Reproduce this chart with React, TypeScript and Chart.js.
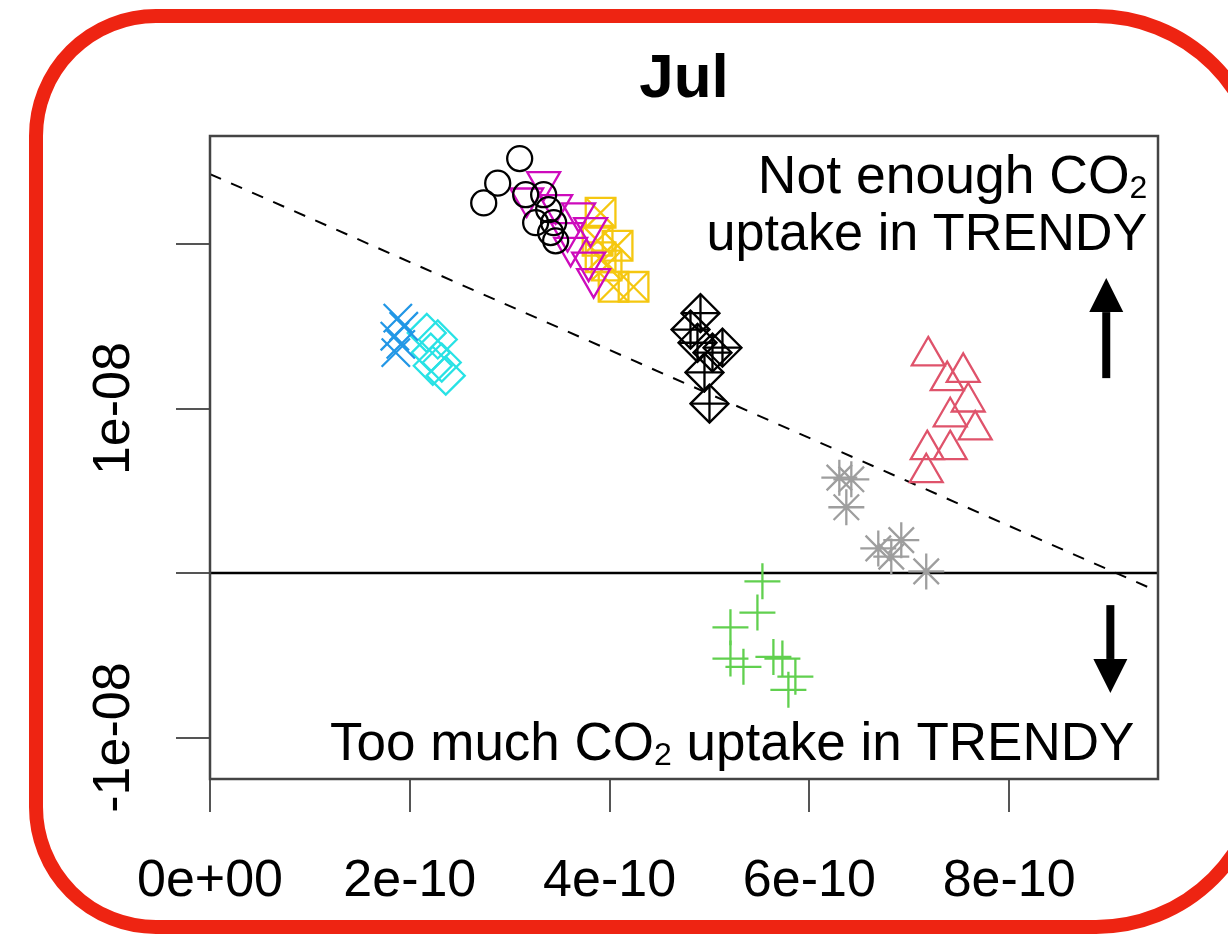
import React, { useEffect, useRef } from 'react';
import { Chart, registerables } from 'chart.js';

Chart.register(...registerables);

// Units: x values in 1e-10, y values in 1e-08
const X_UNIT = 1e-10;
const Y_UNIT = 1e-8;

const X_MIN = 0;
const X_MAX = 9.49;
const Y_MIN = -1.252;
const Y_MAX = 2.657;

const TITLE = 'Jul';
const xTickValues = [0, 2, 4, 6, 8];
const xTickLabels = ['0e+00', '2e-10', '4e-10', '6e-10', '8e-10'];
const yTickValues = [-1, 0, 1, 2];
const yTickLabels = ['-1e-08', '', '1e-08', ''];

// Black open circles
const circleX = [3.10, 2.88, 2.74, 3.16, 3.34, 3.39, 3.26, 3.44, 3.41, 3.46];
const circleY = [2.52, 2.37, 2.25, 2.30, 2.30, 2.21, 2.13, 2.13, 2.07, 2.02];

// Magenta down triangles
const downTriX = [3.34, 3.17, 3.46, 3.69, 3.58, 3.81, 3.61, 3.79, 3.84];
const downTriY = [2.38, 2.28, 2.24, 2.19, 2.07, 2.10, 1.98, 1.89, 1.79];

// Yellow boxed crosses
const boxXX = [3.91, 3.88, 4.08, 3.91, 3.97, 4.04, 4.24];
const boxXY = [2.19, 2.02, 1.99, 1.92, 1.87, 1.74, 1.74];

// Blue x marks
const blueXX = [1.88, 1.94, 1.85, 1.91, 1.86];
const blueXY = [1.55, 1.50, 1.44, 1.39, 1.34];

// Cyan diamonds
const cyanDX = [2.17, 2.28, 2.21, 2.32, 2.36, 2.23];
const cyanDY = [1.46, 1.42, 1.34, 1.28, 1.20, 1.26];

// Black diamonds with plus
const diaPlusX = [4.91, 4.81, 4.88, 5.13, 5.03, 4.95, 5.00];
const diaPlusY = [1.58, 1.48, 1.40, 1.37, 1.34, 1.22, 1.03];

// Red up triangles
const upTriX = [7.19, 7.38, 7.54, 7.59, 7.41, 7.66, 7.18, 7.41, 7.17];
const upTriY = [1.32, 1.17, 1.22, 1.04, 0.95, 0.87, 0.75, 0.75, 0.61];

// Grey asterisks
const starX = [6.30, 6.42, 6.37, 6.69, 6.92, 6.82, 7.17];
const starY = [0.58, 0.57, 0.40, 0.15, 0.20, 0.10, 0.01];

// Green plus signs
const plusX = [5.53, 5.48, 5.21, 5.21, 5.34, 5.64, 5.73, 5.86, 5.79];
const plusY = [-0.05, -0.24, -0.33, -0.52, -0.57, -0.51, -0.52, -0.63, -0.71];

// Dashed reference line and zero line
const refLineX = [0, 9.49];
const refLineY = [2.4255, -0.112];
const zeroLineX = [0, 9.49];
const zeroLineY = [0, 0];

const FONT = '"Liberation Sans", Arial, Helvetica, sans-serif';

function pts(xs: number[], ys: number[]) {
  return xs.map((x, i) => ({ x: x * X_UNIT, y: ys[i] * Y_UNIT }));
}

function markers(label: string, xs: number[], ys: number[], style: string, color: string, radius: number, rotation = 0) {
  return {
    label,
    data: pts(xs, ys),
    pointStyle: style,
    pointRadius: radius,
    pointBorderColor: color,
    pointBackgroundColor: 'rgba(0,0,0,0)',
    pointBorderWidth: 2.3,
    pointRotation: rotation,
    showLine: false,
  };
}

function lineDs(label: string, xs: number[], ys: number[], dash: number[], width: number) {
  return {
    label,
    data: pts(xs, ys),
    showLine: true,
    borderColor: '#000',
    borderWidth: width,
    borderDash: dash,
    pointRadius: 0,
    fill: false,
    tension: 0,
  };
}

function drawSubText(ctx: CanvasRenderingContext2D, segs: [string, boolean][], right: number, baseline: number, size: number) {
  const big = `${size}px ${FONT}`;
  const small = `32px ${FONT}`;
  let total = 0;
  const widths = segs.map(([t, sub]) => {
    ctx.font = sub ? small : big;
    const w = ctx.measureText(t).width;
    total += w;
    return w;
  });
  let x = right - total;
  ctx.textAlign = 'left';
  ctx.textBaseline = 'alphabetic';
  segs.forEach(([t, sub], i) => {
    ctx.font = sub ? small : big;
    ctx.fillText(t, x, sub ? baseline + 5 : baseline);
    x += widths[i];
  });
}

function drawArrow(ctx: CanvasRenderingContext2D, x: number, yBase: number, yTip: number) {
  const dir = yTip < yBase ? -1 : 1;
  const headLen = 34;
  const headW = 34;
  const shaftW = 8;
  const headBase = yTip - dir * headLen;
  ctx.fillStyle = '#000';
  ctx.fillRect(x - shaftW / 2, Math.min(yBase, headBase), shaftW, Math.abs(headBase - yBase));
  ctx.beginPath();
  ctx.moveTo(x, yTip);
  ctx.lineTo(x - headW / 2, headBase);
  ctx.lineTo(x + headW / 2, headBase);
  ctx.closePath();
  ctx.fill();
}

function drawFrame(ctx: CanvasRenderingContext2D) {
  const L = 36, T = 16, R = 1262, B = 927;
  const rl = 120, rr = 166;
  ctx.strokeStyle = '#EE2412';
  ctx.lineWidth = 14;
  ctx.beginPath();
  ctx.moveTo(L + rl, T);
  ctx.lineTo(R - rr, T);
  ctx.arcTo(R, T, R, T + rr, rr);
  ctx.lineTo(R, B - rr);
  ctx.arcTo(R, B, R - rr, B, rr);
  ctx.lineTo(L + rl, B);
  ctx.arcTo(L, B, L, B - rl, rl);
  ctx.lineTo(L, T + rl);
  ctx.arcTo(L, T, L + rl, T, rl);
  ctx.closePath();
  ctx.stroke();
}

const overlayPlugin = {
  id: 'overlay',
  afterDraw(chart: any) {
    const { ctx, chartArea: a, scales } = chart;
    const xs = scales.x;
    const ys = scales.y;
    const px = (v: number) => xs.getPixelForValue(v * X_UNIT);
    const py = (v: number) => ys.getPixelForValue(v * Y_UNIT);
    ctx.save();
    // plot box
    ctx.strokeStyle = '#444';
    ctx.lineWidth = 2.5;
    ctx.strokeRect(a.left, a.top, a.right - a.left, a.bottom - a.top);

    // title, centred over the plot region
    ctx.fillStyle = '#000';
    ctx.font = `bold 62px ${FONT}`;
    ctx.textAlign = 'center';
    ctx.textBaseline = 'alphabetic';
    ctx.fillText(TITLE, (a.left + a.right) / 2, a.top - 39);

    // rotated y tick labels
    ctx.font = `52px ${FONT}`;
    yTickValues.forEach((v, i) => {
      const lab = yTickLabels[i];
      if (!lab) return;
      ctx.save();
      ctx.translate(a.left - 81, py(v));
      ctx.rotate(-Math.PI / 2);
      ctx.fillText(lab, 0, 0);
      ctx.restore();
    });

    // annotations
    drawSubText(ctx, [['Not enough CO', false], ['2', true]], px(9.383), py(2.31), 53.5);
    drawSubText(ctx, [['uptake in TRENDY', false]], px(9.383), py(1.964), 52.2);
    drawSubText(ctx, [['Too much CO', false], ['2', true], [' uptake in TRENDY', false]], px(9.253), py(-1.137), 53);

    drawArrow(ctx, px(8.972), py(1.185), py(1.793));
    drawArrow(ctx, px(9.013), py(-0.195), py(-0.729));

    drawFrame(ctx);
    ctx.restore();
  },
};

export default function App() {
  const ref = useRef<HTMLCanvasElement>(null);
  useEffect(() => {
    document.body.style.margin = '0';
    const canvas = ref.current!;
    const datasets: any[] = [
      markers('circles', circleX, circleY, 'circle', '#000000', 12.5),
      markers('downTri', downTriX, downTriY, 'triangle', '#CD0BBC', 19, 180),
      markers('boxRect', boxXX, boxXY, 'rect', '#F5C710', 21),
      markers('boxCross', boxXX, boxXY, 'crossRot', '#F5C710', 21),
      markers('blueX', blueXX, blueXY, 'crossRot', '#2297E6', 20),
      markers('cyanD', cyanDX, cyanDY, 'rectRot', '#28E2E5', 19),
      markers('diaPlusD', diaPlusX, diaPlusY, 'rectRot', '#000000', 19),
      markers('diaPlusP', diaPlusX, diaPlusY, 'cross', '#000000', 19),
      markers('upTri', upTriX, upTriY, 'triangle', '#DF536B', 19),
      markers('stars', starX, starY, 'star', '#9E9E9E', 18),
      markers('plus', plusX, plusY, 'cross', '#61D04F', 18),
      lineDs('ref', refLineX, refLineY, [12, 11], 2),
      lineDs('zero', zeroLineX, zeroLineY, [], 2.5),
    ];
    const chart = new Chart(canvas, {
      type: 'scatter',
      data: { datasets },
      plugins: [overlayPlugin],
      options: {
        animation: false,
        responsive: false,
        devicePixelRatio: 1,
        events: [],
        layout: { padding: { left: 0, right: 70, top: 136, bottom: 0 } },
        plugins: {
          legend: { display: false },
          tooltip: { enabled: false },
          title: { display: false },
        },
        scales: {
          x: {
            type: 'linear',
            min: X_MIN * X_UNIT,
            max: X_MAX * X_UNIT,
            afterBuildTicks: (s: any) => {
              s.ticks = xTickValues.map((v) => ({ value: v * X_UNIT }));
            },
            afterFit: (s: any) => {
              s.height = 155;
            },
            ticks: {
              autoSkip: false,
              maxRotation: 0,
              minRotation: 0,
              padding: 38,
              color: '#000',
              font: { family: FONT, size: 52 },
              callback: (_v: any, i: number) => xTickLabels[i],
            },
            grid: { drawOnChartArea: false, drawTicks: true, tickLength: 33, color: '#555', lineWidth: 2 },
            border: { display: false },
          },
          y: {
            type: 'linear',
            min: Y_MIN * Y_UNIT,
            max: Y_MAX * Y_UNIT,
            afterBuildTicks: (s: any) => {
              s.ticks = yTickValues.map((v) => ({ value: v * Y_UNIT }));
            },
            afterFit: (s: any) => {
              s.width = 210;
            },
            ticks: { display: false },
            grid: { drawOnChartArea: false, drawTicks: true, tickLength: 34, color: '#555', lineWidth: 2 },
            border: { display: false },
          },
        },
      } as any,
    });
    return () => chart.destroy();
  }, []);
  return (
    <div style={{ width: 1228, height: 934, position: 'relative', background: '#fff' }}>
      <canvas ref={ref} width={1228} height={934} style={{ display: 'block' }} />
    </div>
  );
}
